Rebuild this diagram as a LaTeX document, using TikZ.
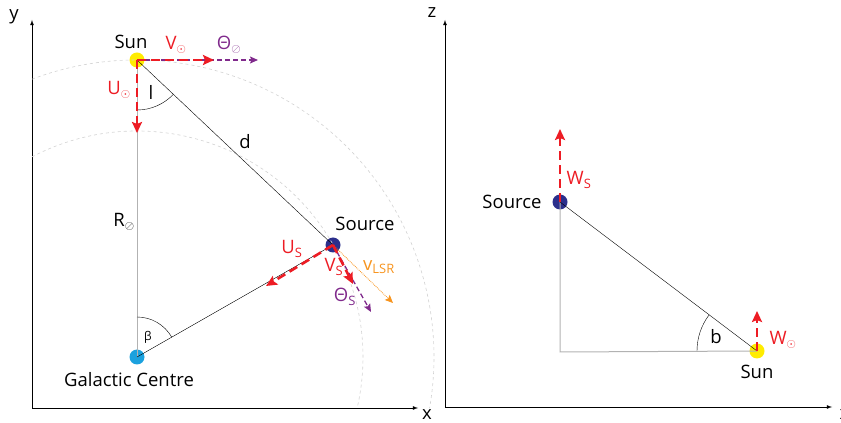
\documentclass[tikz,border=0pt]{standalone}
\usepackage{fontspec}
\setmainfont{Open Sans}
\usetikzlibrary{positioning,arrows.meta}

\definecolor{velred}{RGB}{237,28,36}
\definecolor{velpurple}{RGB}{128,42,140}
\definecolor{lsrorange}{RGB}{247,148,30}
\definecolor{sunyellow}{RGB}{255,236,0}
\definecolor{gcblue}{RGB}{27,161,222}
\definecolor{srcblue}{RGB}{43,47,140}

\newcommand{\sunsub}{\textsubscript{$\odot$}}
\newcommand{\barsub}{\textsubscript{$\oslash$}}

\begin{document}
\begin{tikzpicture}[>=latex, x=1pt, y=1pt,
	lbl/.style={font=\fontsize{18.5}{21}\selectfont},
	small/.style={font=\fontsize{12}{14}\selectfont},
	vel/.style={-{Stealth[length=11pt, width=10pt, inset=2pt]}, velred, line width=2.6pt, dash pattern=on 9pt off 5pt},
	thetavel/.style={-{Stealth[length=8pt, width=7pt, inset=1.5pt]}, velpurple, line width=1.3pt, dash pattern=on 5pt off 3pt},
	lsrvel/.style={-{Stealth[length=8pt, width=7pt, inset=1.5pt]}, lsrorange, line width=0.8pt, densely dotted},
	axisline/.style={->, line width=0.8pt},
	guide/.style={gray!60, line width=1pt},
	orbit/.style={gray!35, dashed, line width=0.6pt},
	body/.style={circle, inner sep=0pt, minimum size=15pt}]

		\useasboundingbox (0,0) rectangle (841,423);

		% 1. Left panel: Galactic plane (x,y)
		\coordinate (o1) at (32,15);
		\coordinate (ytop) at (32,403);
		\coordinate (xend1) at (418,15);
		\draw[axisline] (o1) -- (ytop);
		\draw[axisline] (o1) -- (xend1);
		\node[lbl] (ylbl) at (14,406) {y};
		\node[lbl] (xlbl1) at (427,8) {x};

		% bodies
		\node[body, fill=sunyellow] (sun) at (137,363) {};
		\node[body, fill=gcblue] (gc) at (137,66) {};
		\node[body, fill=srcblue] (src) at (333,178) {};

		% 2. Orbits round the Galactic Centre
		\draw[orbit] ([shift={(110.7:297)}]gc.center) arc[start angle=110.7, end angle=-9.9, radius=297];
		\draw[orbit] ([shift={(117.7:226)}]gc.center) arc[start angle=117.7, end angle=-13, radius=226];

		% 3. Triangle Sun - Source - Galactic Centre
		\draw[guide] (sun.center) -- (gc.center);
		\draw[thin] (sun.center) -- (src.center);
		\draw[thin] (gc.center) -- (src.center);

		% angles
		\draw[thin] ([shift={(-90:50)}]sun.center) arc[start angle=-90, end angle=-43.3, radius=50];
		\draw[thin] ([shift={(90:40)}]gc.center) arc[start angle=90, end angle=29.7, radius=40];
		\node[lbl] (langle) at (151,331) {l};
		\node[small] (bangle) at (148,86) {β};
		\node[lbl] (dlbl) at (245,281) {d};
		\node[lbl] (rlbl) at (124,201) {R\barsub};

		% 4. Velocities of the Sun
		\coordinate (usun) at (137,290);
		\coordinate (vsun) at (214,363);
		\coordinate (thsun) at (258,363);
		\draw[thetavel] (sun.center) -- (thsun);
		\draw[vel] (sun.center) -- (vsun);
		\draw[vel] (sun.center) -- (usun);
		\node[lbl, velred] (usunlbl) at (119,333) {U\sunsub};
		\node[lbl, velred] (vsunlbl) at (176,378) {V\sunsub};
		\node[lbl, velpurple] (thsunlbl) at (229,378) {Θ\barsub};

		% 5. Velocities of the Source
		\coordinate (us) at (266,137);
		\coordinate (vs) at (353,139);
		\coordinate (ths) at (371,111);
		\coordinate (vlsr) at (393,120);
		\draw[lsrvel] (src.center) -- (vlsr);
		\draw[thetavel] (src.center) -- (ths);
		\draw[vel] (src.center) -- (vs);
		\draw[vel] (src.center) -- (us);
		\node[lbl, velred] (uslbl) at (292,174) {U\textsubscript{S}};
		\node[lbl, velred] (vslbl) at (334,156) {V\textsubscript{S}};
		\node[lbl, velpurple] (thslbl) at (345,126) {Θ\textsubscript{S}};
		\node[lbl, lsrorange] (vlsrlbl) at (379,156) {v\textsubscript{LSR}};

		\node[lbl] (sunlbl) at (131,381) {Sun};
		\node[lbl] (gclbl) at (129,43) {Galactic Centre};
		\node[lbl] (srclbl) at (365,199) {Source};

		% 6. Right panel: height above the plane (x,z)
		\coordinate (o2) at (445,16);
		\coordinate (ztop) at (445,403);
		\coordinate (xend2) at (832,16);
		\draw[axisline] (o2) -- (ztop);
		\draw[axisline] (o2) -- (xend2);
		\node[lbl] (zlbl) at (432,410) {z};
		\node[lbl, anchor=west] (xlbl2) at (836,8) {x};

		\node[body, fill=sunyellow] (sun2) at (757,72) {};
		\node[body, fill=srcblue] (src2) at (560,221) {};
		\coordinate (corner) at (560,71);

		\draw[guide] (src2.center) -- (corner) -- (sun2.center);
		\draw[thin] (src2.center) -- (sun2.center);
		\draw[thin] ([shift={(180:60)}]sun2.center) arc[start angle=180, end angle=142.9, radius=60];
		\node[lbl] (bangle2) at (716,86) {b};

		\coordinate (ws) at (560,294);
		\coordinate (wsun) at (757,112);
		\draw[vel] (src2.center) -- (ws);
		\draw[vel] (sun2.center) -- (wsun);
		\node[lbl, velred] (wslbl) at (579,243) {W\textsubscript{S}};
		\node[lbl, velred] (wsunlbl) at (783,83) {W\sunsub};

		\node[lbl] (srclbl2) at (512,221) {Source};
		\node[lbl] (sunlbl2) at (757,51) {Sun};
	\end{tikzpicture}
\end{document}
